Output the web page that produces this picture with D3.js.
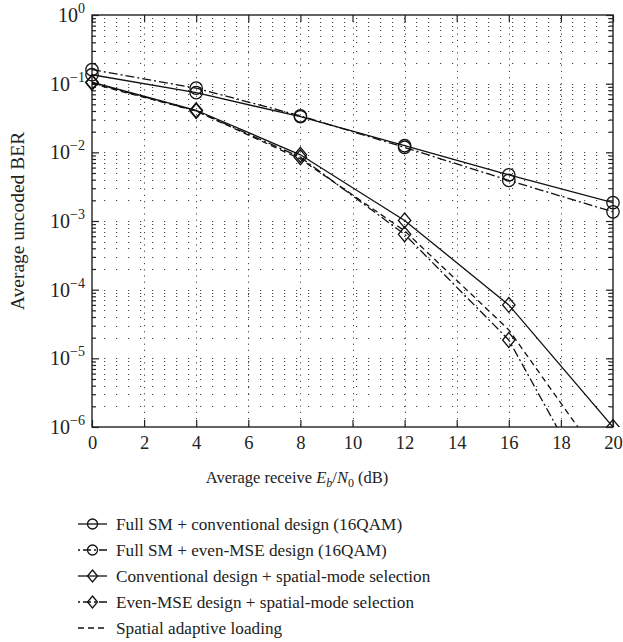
<!DOCTYPE html>
<html>
<head>
<meta charset="utf-8">
<script src="https://cdn.jsdelivr.net/npm/d3@7"></script>
<style>
  body { margin: 0; background: #fff; }
  svg text { font-family: "Liberation Serif", "DejaVu Serif", serif; fill: #222; }
</style>
</head>
<body>
<div id="chart"></div>
<script>
// SNR points (dB)
const snr = [0, 4, 8, 12, 16, 20];

// BER per scheme
const fullConv = [0.135, 0.074, 0.033, 0.0125, 0.0047, 0.00185];
const fullEven = [0.16, 0.086, 0.034, 0.0118, 0.0039, 0.00136];
const convSel  = [0.105, 0.041, 0.0092, 0.00102, 6.0e-5, 1.0e-6];
const evenSel  = [0.103, 0.040, 0.0085, 0.00064, 1.85e-5, 3.3e-8];
const adaptive = [0.100, 0.040, 0.0080, 0.00072, 2.6e-5, 1.9e-7];

const legendNames = [
  'Full SM + conventional design (16QAM)',
  'Full SM + even-MSE design (16QAM)',
  'Conventional design + spatial-mode selection',
  'Even-MSE design + spatial-mode selection',
  'Spatial adaptive loading'
];

const xTicks = [0, 2, 4, 6, 8, 10, 12, 14, 16, 18, 20];
const yExponents = [0, -1, -2, -3, -4, -5, -6];

// series definitions
const series = [
  { values: fullConv, dash: null, marker: 'circle', name: legendNames[0] },
  { values: fullEven, dash: '9,3,2,3', marker: 'circle', name: legendNames[1] },
  { values: convSel, dash: null, marker: 'diamond', name: legendNames[2] },
  { values: evenSel, dash: '9,3,2,3', marker: 'diamond', name: legendNames[3] },
  { values: adaptive, dash: '6,4', marker: null, name: legendNames[4] }
];

const W = 623, H = 642;
const margin = { left: 92, top: 15, right: 10, bottom: 215 };

const svg = d3.select('#chart').append('svg')
  .attr('width', W)
  .attr('height', H);

const x = d3.scaleLinear().domain([0, 20]).range([margin.left, W - margin.right]);
const y = d3.scaleLog().domain([1e-6, 1]).range([H - margin.bottom, margin.top]);

const x0 = x.range()[0], x1 = x.range()[1];
const yb = y.range()[0], yt = y.range()[1];

// minor log ticks
const minorVals = [];
for (let e = -6; e < 0; e++) {
  for (let m = 2; m <= 9; m++) minorVals.push(m * Math.pow(10, e));
}
const majorVals = yExponents.map(e => Math.pow(10, e));

// grid
const grid = svg.append('g').attr('stroke', '#444').attr('stroke-width', 1);
grid.selectAll('.hg')
  .data(minorVals.concat(majorVals.slice(1, -1)))
  .enter().append('line')
  .attr('x1', x0).attr('x2', x1)
  .attr('y1', d => Math.round(y(d)) + 0.5).attr('y2', d => Math.round(y(d)) + 0.5)
  .attr('stroke-dasharray', '1.2,10.8')
  .attr('stroke-dashoffset', -12);
grid.selectAll('.vg')
  .data(xTicks.slice(1, -1))
  .enter().append('line')
  .attr('x1', d => Math.round(x(d)) + 0.5).attr('x2', d => Math.round(x(d)) + 0.5)
  .attr('y1', yt).attr('y2', yb)
  .attr('stroke-dasharray', '1.2,5');

// axes with inward ticks
function styleAxis(g) {
  g.select('.domain').remove();
  g.selectAll('line').attr('stroke', '#222').attr('stroke-width', 1.2);
}
svg.append('g').attr('transform', `translate(0,${yb})`)
  .call(d3.axisBottom(x).tickValues(xTicks).tickSize(-7).tickPadding(9).tickFormat(d3.format('d')))
  .call(styleAxis)
  .call(g => g.selectAll('text').attr('font-size', 18.5).attr('fill', '#222')
    .attr('font-family', '"Liberation Serif", serif'));
svg.append('g').attr('transform', `translate(0,${yt})`)
  .call(d3.axisTop(x).tickValues(xTicks).tickSize(-7).tickFormat(''))
  .call(styleAxis);

[['left', x0, d3.axisLeft], ['right', x1, d3.axisRight]].forEach(([side, px, ax]) => {
  svg.append('g').attr('transform', `translate(${px},0)`)
    .call(ax(y).tickValues(majorVals).tickSize(-7).tickFormat(''))
    .call(styleAxis);
  svg.append('g').attr('transform', `translate(${px},0)`)
    .call(ax(y).tickValues(minorVals).tickSize(-4).tickFormat(''))
    .call(styleAxis);
});

// frame
svg.append('rect')
  .attr('x', x0).attr('y', yt)
  .attr('width', x1 - x0).attr('height', yb - yt)
  .attr('fill', 'none').attr('stroke', '#222').attr('stroke-width', 1.4);

// y tick labels with superscripts
const yl = svg.append('g').selectAll('text')
  .data(yExponents)
  .enter().append('text')
  .attr('x', x0 - 7)
  .attr('y', d => y(Math.pow(10, d)) + 7)
  .attr('text-anchor', 'end')
  .attr('font-size', 20);
yl.append('tspan').text('10');
yl.append('tspan').attr('dy', -9).attr('font-size', 14)
  .text(d => d === 0 ? '0' : '\u2212' + (-d));

// axis titles
const xt = svg.append('text')
  .attr('x', 297)
  .attr('y', yb + 56)
  .attr('text-anchor', 'middle')
  .attr('font-size', 16.5);
xt.append('tspan').text('Average receive ');
xt.append('tspan').attr('font-style', 'italic').text('E');
xt.append('tspan').attr('font-style', 'italic').attr('font-size', 12).attr('dy', 4).text('b');
xt.append('tspan').attr('dy', -4).text('/');
xt.append('tspan').attr('font-style', 'italic').text('N');
xt.append('tspan').attr('font-size', 12).attr('dy', 4).text('0');
xt.append('tspan').attr('dy', -4).text(' (dB)');

svg.append('text')
  .attr('transform', `translate(24,${(yt + yb) / 2}) rotate(-90)`)
  .attr('text-anchor', 'middle')
  .attr('font-size', 19.5)
  .text('Average uncoded BER');

// clip
svg.append('clipPath').attr('id', 'clip')
  .append('rect').attr('x', x0 - 8).attr('y', yt - 8)
  .attr('width', x1 - x0 + 16).attr('height', yb - yt + 8);

const plot = svg.append('g').attr('clip-path', 'url(#clip)');
svg.append('clipPath').attr('id', 'clipLine')
  .append('rect').attr('x', x0).attr('y', yt).attr('width', x1 - x0).attr('height', yb - yt);

const line = d3.line().x((d, i) => x(snr[i])).y(d => y(d));

function drawMarker(g, type, cx, cy, s) {
  if (type === 'circle') {
    g.append('circle').attr('cx', cx).attr('cy', cy).attr('r', s)
      .attr('fill', 'none').attr('stroke', '#111').attr('stroke-width', 1.3);
  } else if (type === 'diamond') {
    g.append('path')
      .attr('d', `M${cx},${cy - s * 1.2}L${cx + s},${cy}L${cx},${cy + s * 1.2}L${cx - s},${cy}Z`)
      .attr('fill', 'none').attr('stroke', '#111').attr('stroke-width', 1.3);
  }
}

series.forEach(s => {
  svg.append('g').attr('clip-path', 'url(#clipLine)')
    .append('path')
    .datum(s.values)
    .attr('d', line)
    .attr('fill', 'none')
    .attr('stroke', '#111')
    .attr('stroke-width', 1.3)
    .attr('stroke-dasharray', s.dash);
  if (s.marker) {
    s.values.forEach((v, i) => {
      if (v >= 1e-6) drawMarker(plot, s.marker, x(snr[i]), y(v), 6.2);
    });
  }
});

// legend
const lg = svg.append('g');
series.forEach((s, i) => {
  const cy = 524 + i * 26;
  lg.append('line')
    .attr('x1', 78).attr('x2', 107)
    .attr('y1', cy).attr('y2', cy)
    .attr('stroke', '#111').attr('stroke-width', 1.3)
    .attr('stroke-dasharray', s.dash ? (s.marker ? '2,3,8,3' : '6,4') : null);
  if (s.marker) drawMarker(lg, s.marker, 92.5, cy, 5);
  lg.append('text')
    .attr('x', 116).attr('y', cy + 6)
    .attr('font-size', 17.2)
    .text(s.name);
});
</script>
</body>
</html>
